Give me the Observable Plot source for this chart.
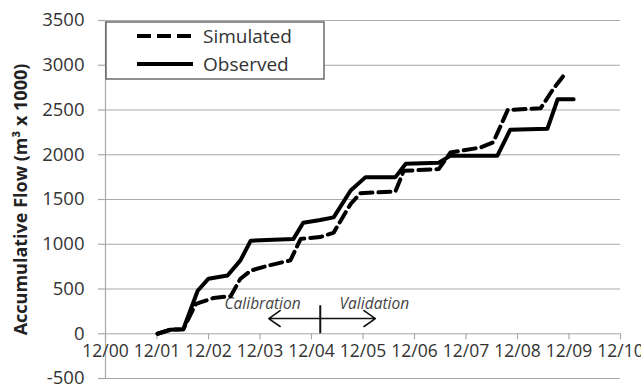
<!DOCTYPE html>
<html><head><meta charset="utf-8">
<script src="https://cdn.jsdelivr.net/npm/d3@7"></script>
<script src="https://cdn.jsdelivr.net/npm/@observablehq/plot@0.6"></script>
<style>body{margin:0;background:#fff}</style>
</head><body><div id="chart"></div>
<script>
// Observed (solid) cumulative flow
const obsX = [1.01, 1.26, 1.51, 1.79, 2.00, 2.37, 2.62, 2.82, 3.65, 3.84, 4.17, 4.43, 4.76, 5.05, 5.63, 5.83, 6.47, 6.70, 7.61, 7.86, 8.58, 8.78, 9.09];
const obsY = [0, 45, 50, 480, 615, 650, 820, 1040, 1060, 1240, 1270, 1300, 1600, 1750, 1750, 1900, 1910, 1990, 1990, 2280, 2290, 2620, 2620];
// Simulated (dashed) cumulative flow
const simX = [1.01, 1.26, 1.51, 1.75, 1.84, 2.10, 2.43, 2.62, 2.82, 3.15, 3.59, 3.79, 4.17, 4.43, 4.76, 4.95, 5.63, 5.79, 6.47, 6.70, 7.28, 7.53, 7.81, 8.45, 8.70, 8.89];
const simY = [0, 45, 50, 330, 350, 400, 420, 615, 705, 760, 820, 1060, 1080, 1130, 1450, 1570, 1590, 1820, 1840, 2025, 2080, 2140, 2500, 2520, 2740, 2880];

const xTicks = [0, 1, 2, 3, 4, 5, 6, 7, 8, 9, 10];
const xTickLabels = ["12/00", "12/01", "12/02", "12/03", "12/04", "12/05", "12/06", "12/07", "12/08", "12/09", "12/10"];
const yTicks = [-500, 0, 500, 1000, 1500, 2000, 2500, 3000, 3500];
const seriesNames = ["Simulated", "Observed"];
const yTitle = "Accumulative Flow (m\u00B3 x 1000)";

// annotation: calibration / validation split
const splitX = [4.17];
const splitTop = [313];
const arrowY = [170];
const arrowEnds = [3.17, 5.24];
const periodLabels = ["Calibration", "Validation"];
const periodLabelX = [3.05, 5.22];
const periodLabelY = [335, 335];

const obs = obsX.map((x, i) => ({x, y: obsY[i]}));
const sim = simX.map((x, i) => ({x, y: simY[i]}));

const W = 641, H = 388, mT = 20, mB = 10, mL = 105, mR = 21;
const yDomain = [-500, 3500];
const zeroOffset = (0 - yDomain[0]) / (yDomain[1] - yDomain[0]) * (H - mT - mB);
const grid = "#a9a9a9";
const dash = "12,6";

const plot = Plot.plot({
  width: W, height: H,
  marginTop: mT, marginBottom: mB, marginLeft: mL, marginRight: mR,
  style: {fontFamily: "'Open Sans', sans-serif", color: "#333", background: "#fff"},
  x: {domain: [0, 10]},
  y: {domain: yDomain},
  marks: [
    Plot.gridY(yTicks, {stroke: grid, strokeOpacity: 1, strokeWidth: 1.2}),
    Plot.ruleX([0], {stroke: grid, strokeWidth: 1.2}),
    Plot.axisY(yTicks, {tickSize: 7, tickPadding: 14, stroke: grid, strokeWidth: 1.2, fontSize: 18.5, label: null, tickFormat: d => String(d)}),
    Plot.axisX(xTicks, {anchor: "bottom", dy: -zeroOffset, tickSize: 6, tickPadding: 5, stroke: grid, strokeWidth: 1.2, fontSize: 17.5, label: null, tickFormat: (d, i) => xTickLabels[i]}),
    Plot.text([yTitle], {frameAnchor: "left", textAnchor: "middle", rotate: -90, dx: -84, fontWeight: "bold", fontSize: 18, fill: "#222"}),
    Plot.ruleX(splitX, {x: d => d, y1: 0, y2: (d, i) => splitTop[i], stroke: "#111", strokeWidth: 2}),
    Plot.arrow(arrowEnds, {x1: splitX[0], x2: d => d, y1: arrowY[0], y2: arrowY[0], stroke: "#111", strokeWidth: 1.6, headLength: 13, headAngle: 70}),
    Plot.text(periodLabels, {x: (d, i) => periodLabelX[i], y: (d, i) => periodLabelY[i], text: d => d, fontStyle: "italic", fontSize: 15.5, fill: "#444"}),
    Plot.line(obs, {x: "x", y: "y", stroke: "#000", strokeWidth: 4, strokeLinejoin: "round"}),
    Plot.line(sim, {x: "x", y: "y", stroke: "#000", strokeWidth: 4, strokeLinejoin: "round", strokeDasharray: dash})
  ]
});

// legend box inside the plot frame
const svg = d3.select(plot);
const lg = svg.append("g").attr("class", "legend");
lg.append("rect").attr("x", 106).attr("y", 22).attr("width", 218).attr("height", 57)
  .attr("fill", "#fff").attr("stroke", "#555").attr("stroke-width", 1.3);
seriesNames.forEach((name, i) => {
  const yy = 36 + i * 28;
  lg.append("line").attr("x1", 137).attr("x2", 193).attr("y1", yy).attr("y2", yy)
    .attr("stroke", "#000").attr("stroke-width", 4)
    .attr("stroke-dasharray", i === 0 ? "14,6" : null);
  lg.append("text").attr("x", 203).attr("y", yy).attr("dy", "0.36em")
    .attr("text-anchor", "start")
    .attr("font-size", 19).attr("fill", "#333").attr("font-family", "'Open Sans', sans-serif")
    .text(name);
});

document.getElementById("chart").appendChild(plot);
</script>
</body></html>
